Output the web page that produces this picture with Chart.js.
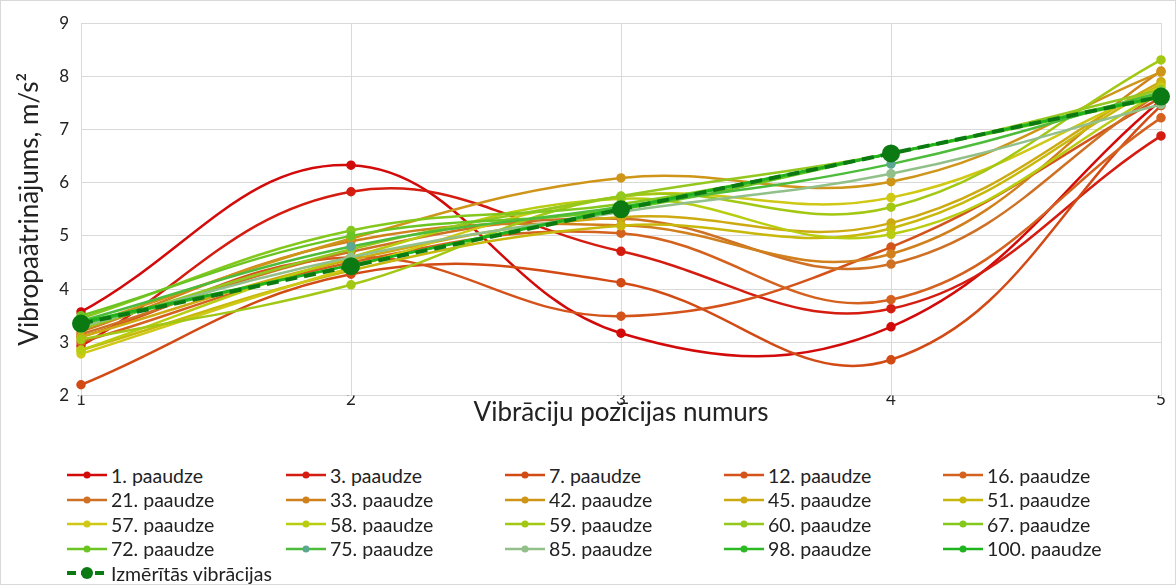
<!DOCTYPE html>
<html>
<head>
<meta charset="utf-8">
<script src="https://cdn.jsdelivr.net/npm/chart.js@4"></script>
<style>
    body { margin: 0; background: #fff; font-family: Lato, sans-serif; }
    #wrap { position: relative; width: 1174px; height: 583px; border: 1px solid #d9d9d9; }
    #box { position: absolute; left: 0; top: 0; width: 1174px; height: 427px; }
    #legend { position: absolute; left: 66px; top: 462px; display: grid;
        grid-template-columns: 219px 219px 219px 219px 200px; }
    .item { display: flex; align-items: center; height: 24.5px; font-size: 19.5px; color: #222; white-space: nowrap; }
    .item canvas { margin-right: 4px; }
</style>
</head>
<body>
<div id="wrap">
    <div id="box"><canvas id="chart"></canvas></div>
    <div id="legend"></div>
</div>
<script>
const positions = ['1', '2', '3', '4', '5'];
const yTicks = [2, 3, 4, 5, 6, 7, 8, 9];

const seriesNames = ['1. paaudze', '3. paaudze', '7. paaudze', '12. paaudze', '16. paaudze',
    '21. paaudze', '33. paaudze', '42. paaudze', '45. paaudze', '51. paaudze',
    '57. paaudze', '58. paaudze', '59. paaudze', '60. paaudze', '67. paaudze',
    '72. paaudze', '75. paaudze', '85. paaudze', '98. paaudze', '100. paaudze'];

const gen1 = [3.57, 6.33, 3.17, 3.29, 7.55];
const gen3 = [2.93, 5.83, 4.71, 3.63, 6.88];
const gen7 = [2.20, 4.28, 4.12, 2.67, 7.45];
const gen12 = [3.10, 4.60, 3.49, 4.79, 7.60];
const gen16 = [3.00, 4.50, 5.05, 3.80, 7.22];
const gen21 = [3.15, 4.70, 5.32, 4.47, 7.70];
const gen33 = [3.20, 4.90, 5.20, 4.66, 8.10];
const gen42 = [3.30, 4.95, 6.09, 6.02, 8.08];
const gen45 = [3.10, 4.55, 5.35, 5.24, 7.90];
const gen51 = [2.85, 4.35, 5.19, 5.14, 7.85];
const gen57 = [2.78, 4.40, 5.74, 5.72, 7.80];
const gen58 = [2.85, 4.60, 5.70, 5.03, 7.70];
const gen59 = [3.05, 4.08, 5.74, 5.54, 8.31];
const gen60 = [3.25, 4.75, 5.75, 6.55, 7.75];
const gen67 = [3.45, 5.10, 5.60, 6.55, 7.60];
const gen72 = [3.50, 5.00, 5.50, 6.55, 7.65];
const gen75 = [3.40, 4.80, 5.55, 6.35, 7.70];
const gen85 = [3.30, 4.60, 5.45, 6.17, 7.47];
const gen98 = [3.35, 4.45, 5.50, 6.55, 7.62];
const gen100 = [3.38, 4.45, 5.52, 6.55, 7.62];
const measured = [3.35, 4.43, 5.50, 6.55, 7.62];

const seriesValues = [gen1, gen3, gen7, gen12, gen16, gen21, gen33, gen42, gen45, gen51,
    gen57, gen58, gen59, gen60, gen67, gen72, gen75, gen85, gen98, gen100];

const seriesColors = ['#d20a0a', '#d41c10', '#d24a14', '#d4531a', '#d4621e',
    '#cf7125', '#d0801c', '#cf9518', '#ceaa12', '#c8b80c',
    '#cfc814', '#b8cc10', '#a2c814', '#94c81e', '#84c81e',
    '#6cc422', '#4cbc3a', '#92c08a', '#2cba24', '#1eb41e'];
const pointColors = seriesColors.slice();
pointColors[16] = '#5aa890';

const measuredName = 'Izmērītās vibrācijas';
const measuredColor = '#0c7a12';

const datasets = seriesNames.map((name, i) => ({
    label: name,
    data: seriesValues[i],
    borderColor: seriesColors[i],
    backgroundColor: pointColors[i],
    pointBackgroundColor: pointColors[i],
    pointBorderColor: pointColors[i],
    borderWidth: 2.5,
    pointRadius: 3.5,
    tension: 0.4,
    order: 30 - i
}));
datasets.push({
    label: measuredName,
    data: measured,
    borderColor: measuredColor,
    backgroundColor: measuredColor,
    pointBackgroundColor: measuredColor,
    pointBorderColor: measuredColor,
    borderWidth: 4,
    borderDash: [12, 7],
    pointRadius: 7,
    tension: 0,
    order: 0
});

const ctx = document.getElementById('chart').getContext('2d');
const chart = new Chart(ctx, {
    type: 'line',
    data: { labels: positions, datasets: datasets },
    options: {
        responsive: true,
        maintainAspectRatio: false,
        animation: false,
        layout: { padding: { top: 12, right: 14, left: 0, bottom: 0 } },
        plugins: { legend: { display: false }, tooltip: { enabled: false } },
        scales: {
            x: {
                offset: false,
                grid: { color: '#d9d9d9', drawTicks: false },
                border: { color: '#d9d9d9' },
                ticks: { padding: -6, color: '#222', font: { family: 'Lato', size: 17 } },
                title: { display: true, text: 'Vibrāciju pozīcijas numurs', color: '#222',
                    padding: { top: -7, bottom: 0 }, font: { family: 'Lato', size: 26 } }
            },
            y: {
                min: yTicks[0],
                max: yTicks[yTicks.length - 1],
                afterBuildTicks: s => { s.ticks = yTicks.map(v => ({ value: v })); },
                afterFit: s => { s.width = 80; },
                grid: { color: '#d9d9d9', drawTicks: false },
                border: { display: false },
                ticks: { padding: 12, color: '#222', font: { family: 'Lato', size: 17 } },
                title: { display: true, text: 'Vibropaātrinājums, m/s²', color: '#222',
                    padding: { top: 13, bottom: 0 }, font: { family: 'Lato', size: 26 } }
            }
        }
    }
});

// legend in Excel-like columns
const legendEl = document.getElementById('legend');
function addLegendItem(text, line, dot, dashed) {
    const item = document.createElement('div');
    item.className = 'item';
    const c = document.createElement('canvas');
    c.width = 40; c.height = 14;
    const g = c.getContext('2d');
    g.strokeStyle = line;
    g.lineWidth = dashed ? 4 : 2.5;
    if (dashed) g.setLineDash([9, 5]);
    g.beginPath(); g.moveTo(0, 7); g.lineTo(40, 7); g.stroke();
    g.fillStyle = dot;
    g.beginPath(); g.arc(20, 7, dashed ? 6 : 3.5, 0, Math.PI * 2); g.fill();
    item.appendChild(c);
    const t = document.createElement('span');
    t.textContent = text;
    item.appendChild(t);
    legendEl.appendChild(item);
}
seriesNames.forEach((n, i) => addLegendItem(n, seriesColors[i], pointColors[i], false));
addLegendItem(measuredName, measuredColor, measuredColor, true);
</script>
</body>
</html>
